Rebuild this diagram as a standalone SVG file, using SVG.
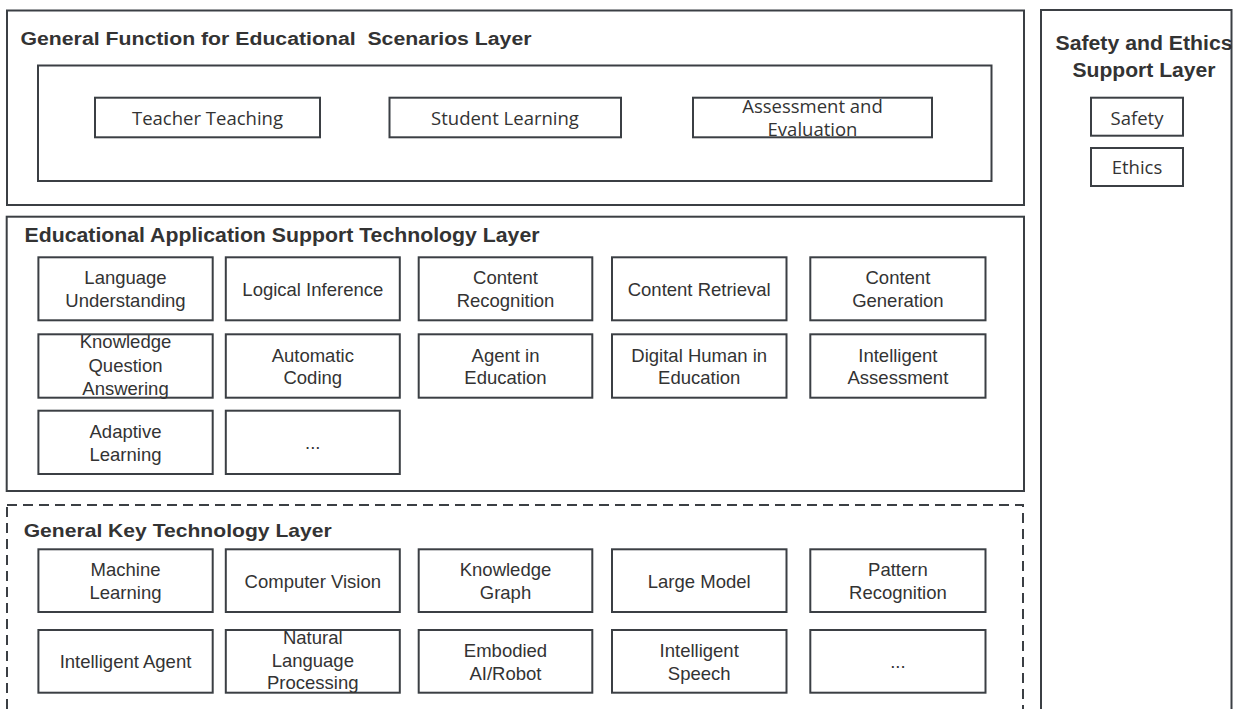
<svg xmlns="http://www.w3.org/2000/svg" width="1233" height="709" viewBox="0 0 1233 709">
<style>
rect{fill:#fff;stroke:#3b3f44;stroke-width:2}
.dash{stroke-dasharray:10 6}
.ttl{font-family:"Liberation Sans",Arial,sans-serif;font-weight:bold;fill:#333}
.t{font-family:"Liberation Sans",Arial,sans-serif;font-size:18.5px;fill:#333;text-anchor:middle}
.s{font-family:"Open Sans","Noto Sans",sans-serif;font-size:18.5px;fill:#333;text-anchor:middle}
</style>
<rect x="0" y="0" width="1233" height="709" style="stroke:none"/>
<g id="layer-general-function">
<rect x="7" y="10.5" width="1017" height="194.5"/>
<text class="ttl" x="20.5" y="45" font-size="18" textLength="511" lengthAdjust="spacingAndGlyphs">General Function for Educational&#160; Scenarios Layer</text>
<rect x="38" y="65.5" width="953.5" height="115.5"/>
</g>
<g id="teacher-teaching"><rect x="95" y="97.7" width="225" height="39.6"/><text class="s" x="207.5" y="125">Teacher Teaching</text></g>
<g id="student-learning"><rect x="389.5" y="97.7" width="231.5" height="39.6"/><text class="s" x="505" y="125">Student Learning</text></g>
<g id="assessment-evaluation"><rect x="693" y="97.7" width="239" height="39.6"/><text class="s" x="812.5" y="113">Assessment and</text><text class="s" x="812.5" y="135.5">Evaluation</text></g>

<g id="layer-safety-ethics">
<rect x="1041" y="10" width="190.5" height="720"/>
<text class="ttl" x="1144" y="50" font-size="20" text-anchor="middle" textLength="177" lengthAdjust="spacingAndGlyphs">Safety and Ethics</text>
<text class="ttl" x="1144" y="77" font-size="20" text-anchor="middle" textLength="143" lengthAdjust="spacingAndGlyphs">Support Layer</text>
</g>
<g id="safety"><rect x="1091" y="97.7" width="92" height="38"/><text class="s" x="1137" y="125">Safety</text></g>
<g id="ethics"><rect x="1091" y="148" width="92" height="38"/><text class="s" x="1137" y="173.5">Ethics</text></g>

<g id="layer-application-support">
<rect x="6.7" y="216.7" width="1017.3" height="274.3"/>
<text class="ttl" x="24.5" y="242.3" font-size="20" textLength="515" lengthAdjust="spacingAndGlyphs">Educational Application Support Technology Layer</text>
</g>
<g id="language-understanding"><rect x="38.4" y="257.3" width="174.3" height="63"/><text class="t" x="125.5" y="284">Language</text><text class="t" x="125.5" y="306.7">Understanding</text></g>
<g id="logical-inference"><rect x="225.8" y="257.3" width="174" height="63"/><text class="t" x="312.8" y="296">Logical Inference</text></g>
<g id="content-recognition"><rect x="418.7" y="257.3" width="173.6" height="63"/><text class="t" x="505.5" y="284">Content</text><text class="t" x="505.5" y="306.7">Recognition</text></g>
<g id="content-retrieval"><rect x="612" y="257.3" width="174.5" height="63"/><text class="t" x="699.2" y="296">Content Retrieval</text></g>
<g id="content-generation"><rect x="810.3" y="257.3" width="175.2" height="63"/><text class="t" x="897.9" y="284">Content</text><text class="t" x="897.9" y="306.7">Generation</text></g>

<g id="knowledge-qa"><rect x="38.4" y="334.3" width="174.3" height="63.4"/><text class="t" x="125.5" y="348">Knowledge</text><text class="t" x="125.5" y="371.7">Question</text><text class="t" x="125.5" y="395">Answering</text></g>
<g id="automatic-coding"><rect x="225.8" y="334.3" width="174" height="63.4"/><text class="t" x="312.8" y="361.5">Automatic</text><text class="t" x="312.8" y="384.2">Coding</text></g>
<g id="agent-in-education"><rect x="418.7" y="334.3" width="173.6" height="63.4"/><text class="t" x="505.5" y="361.5">Agent in</text><text class="t" x="505.5" y="384.2">Education</text></g>
<g id="digital-human"><rect x="612" y="334.3" width="174.5" height="63.4"/><text class="t" x="699.2" y="361.5">Digital Human in</text><text class="t" x="699.2" y="384.2">Education</text></g>
<g id="intelligent-assessment"><rect x="810.3" y="334.3" width="175.2" height="63.4"/><text class="t" x="897.9" y="361.5">Intelligent</text><text class="t" x="897.9" y="384.2">Assessment</text></g>

<g id="adaptive-learning"><rect x="38.4" y="410.7" width="174.3" height="63.3"/><text class="t" x="125.5" y="437.8">Adaptive</text><text class="t" x="125.5" y="460.5">Learning</text></g>
<g id="app-more"><rect x="225.8" y="410.7" width="174" height="63.3"/><text class="t" x="312.8" y="449">...</text></g>

<g id="layer-general-key">
<rect class="dash" x="7" y="505" width="1016" height="230"/>
<text class="ttl" x="23.7" y="536.7" font-size="19" textLength="308" lengthAdjust="spacingAndGlyphs">General Key Technology Layer</text>
</g>
<g id="machine-learning"><rect x="38.4" y="549.3" width="174.3" height="62.7"/><text class="t" x="125.5" y="576.2">Machine</text><text class="t" x="125.5" y="598.9">Learning</text></g>
<g id="computer-vision"><rect x="225.8" y="549.3" width="174" height="62.7"/><text class="t" x="312.8" y="587.7">Computer Vision</text></g>
<g id="knowledge-graph"><rect x="418.7" y="549.3" width="173.6" height="62.7"/><text class="t" x="505.5" y="576.2">Knowledge</text><text class="t" x="505.5" y="598.9">Graph</text></g>
<g id="large-model"><rect x="612" y="549.3" width="174.5" height="62.7"/><text class="t" x="699.2" y="587.7">Large Model</text></g>
<g id="pattern-recognition"><rect x="810.3" y="549.3" width="175.2" height="62.7"/><text class="t" x="897.9" y="576.2">Pattern</text><text class="t" x="897.9" y="598.9">Recognition</text></g>

<g id="intelligent-agent"><rect x="38.4" y="630" width="174.3" height="62.7"/><text class="t" x="125.5" y="668.3">Intelligent Agent</text></g>
<g id="nlp"><rect x="225.8" y="630" width="174" height="62.7"/><text class="t" x="312.8" y="644">Natural</text><text class="t" x="312.8" y="666.7">Language</text><text class="t" x="312.8" y="689.3">Processing</text></g>
<g id="embodied-ai"><rect x="418.7" y="630" width="173.6" height="62.7"/><text class="t" x="505.5" y="656.8">Embodied</text><text class="t" x="505.5" y="679.5">AI/Robot</text></g>
<g id="intelligent-speech"><rect x="612" y="630" width="174.5" height="62.7"/><text class="t" x="699.2" y="656.8">Intelligent</text><text class="t" x="699.2" y="679.5">Speech</text></g>
<g id="key-more"><rect x="810.3" y="630" width="175.2" height="62.7"/><text class="t" x="897.9" y="668.3">...</text></g>

<g id="connectors"></g>
</svg>
